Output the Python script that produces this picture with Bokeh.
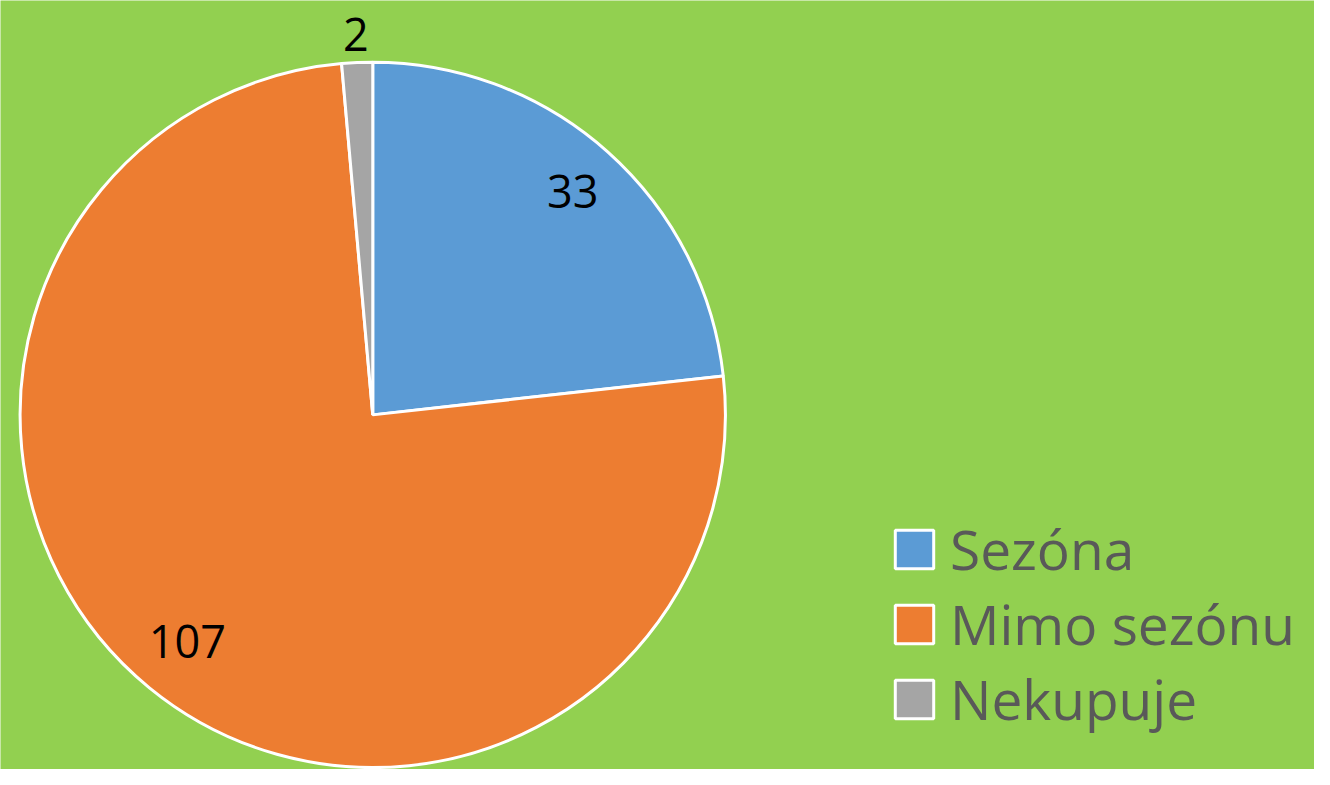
import math
from bokeh.plotting import figure
from bokeh.models import ColumnDataSource, Range1d, Legend, LegendItem
from bokeh.core.properties import value
from bokeh.embed import file_html
from bokeh.resources import INLINE

# ---- data ----
categories = ["Sezóna", "Mimo sezónu", "Nekupuje"]
counts = [33, 107, 2]
colors = ["#5B9BD5", "#ED7D31", "#A5A5A5"]

# ---- style / layout (reference pixel units) ----
label_radius_factor = [0.85, 0.83, 1.08]
REF_W, REF_H = 1330, 785
FIG_W, FIG_H = 1314, 769
S = FIG_H / REF_H
CX, CY, R = 380, REF_H - 423, 360
BG = "#92D050"

total = sum(counts)
starts, ends, lx, ly = [], [], [], []
cum = 0
for c, f in zip(counts, label_radius_factor):
    a0 = math.pi / 2 - 2 * math.pi * cum / total
    cum += c
    a1 = math.pi / 2 - 2 * math.pi * cum / total
    starts.append(a0)
    ends.append(a1)
    mid = (a0 + a1) / 2
    lx.append(CX + f * R * math.cos(mid))
    ly.append(CY + f * R * math.sin(mid))

src = ColumnDataSource(dict(cat=categories, val=[str(v) for v in counts], color=colors,
                            start=starts, end=ends, lx=lx, ly=ly))

p = figure(width=FIG_W, height=FIG_H, output_backend="svg", toolbar_location=None,
           x_range=Range1d(0, FIG_W / S), y_range=Range1d(0, REF_H),
           background_fill_color=BG, border_fill_color=BG, min_border=0)
p.axis.visible = False
p.grid.visible = False
p.outline_line_color = None

w = p.wedge(x=CX, y=CY, radius=R, start_angle="start", end_angle="end", direction="clock",
            fill_color="color", line_color="white", line_width=3, source=src)

p.text(x="lx", y="ly", text="val", source=src, text_align="center", text_baseline="middle",
       text_font=value("Open Sans"), text_font_size="45px", text_color="black")

items = [LegendItem(label=c, renderers=[w], index=i) for i, c in enumerate(categories)]
legend = Legend(items=items, location=(890, 33), orientation="vertical",
                label_text_font="Open Sans", label_text_font_size="55px",
                label_text_color="#595959", glyph_width=48, glyph_height=48,
                label_standoff=12, spacing=-3, padding=0, margin=0,
                border_line_color=None, background_fill_alpha=0)
p.add_layout(legend, "center")

open("out.html", "w").write(file_html(p, INLINE))
